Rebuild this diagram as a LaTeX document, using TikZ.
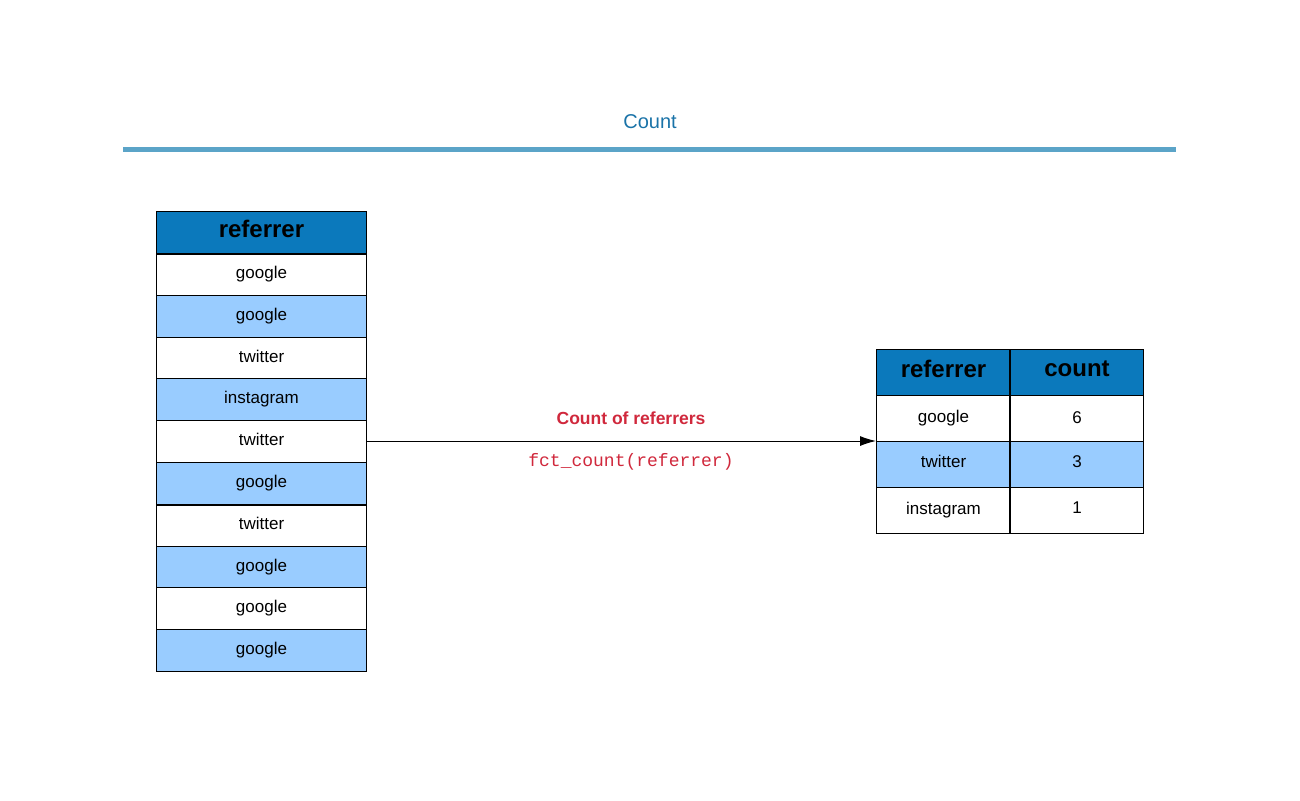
\documentclass[tikz,border=0pt]{standalone}
\usepackage{fontspec}
\setmainfont{Liberation Sans}
\newfontfamily\monofont{Liberation Mono}
\usetikzlibrary{arrows.meta}
\definecolor{hdrblue}{HTML}{0B79BC}
\definecolor{rowblue}{HTML}{99CCFF}
\definecolor{titleblue}{HTML}{1A73A8}
\definecolor{rulecol}{HTML}{5BA4C8}
\definecolor{labred}{HTML}{D0283C}
\tikzset{
  cell/.style={draw=black, line width=1pt, minimum height=#1, inner sep=0pt, anchor=north west, font=\fontsize{17}{20}\selectfont, text=black},
  hdr/.style={fill=hdrblue, font=\fontsize{24}{28}\selectfont\bfseries},
  lb/.style={fill=rowblue},
  wt/.style={fill=white},
}
\begin{document}
\begin{tikzpicture}[x=1pt,y=-1pt]
\useasboundingbox (0,0) rectangle (1300,800);
\node[font=\fontsize{20}{24}\selectfont, text=titleblue] (title) at (650,122) {Count};
\draw[rulecol, line width=5pt] (123,149.5) coordinate (r1) -- (1176,149.5) coordinate (r2);
% left table
\node[cell=42pt, hdr, minimum width=210pt] (lh) at (156,211) {\raisebox{7pt}{referrer}};
\foreach \t/\s [count=\i] in {google/wt, google/lb, twitter/wt, instagram/lb, twitter/wt, google/lb, twitter/wt, google/lb, google/wt, google/lb}{
  \node[cell=41.8pt, \s, minimum width=210pt] (l\i) at (156,{253+(\i-1)*41.8}) {\raisebox{4pt}{\t}};
}
\draw[line width=2pt] (lh.south west) -- (lh.south east);
\draw[line width=2pt] (l6.south west) -- (l6.south east);
% right table
\node[cell=46pt, hdr, minimum width=134pt] (rh1) at (876,349) {\raisebox{8pt}{referrer}};
\node[cell=46pt, hdr, minimum width=133pt] (rh2) at (1010,349) {\raisebox{8pt}{count}};
\node[cell=46pt, wt, minimum width=134pt] (ra1) at (876,395) {\raisebox{5pt}{google}};
\node[cell=46pt, wt, minimum width=133pt] (rb1) at (1010,395) {\raisebox{2pt}{6}};
\node[cell=46pt, lb, minimum width=134pt] (ra2) at (876,441) {\raisebox{7pt}{twitter}};
\node[cell=46pt, lb, minimum width=133pt] (rb2) at (1010,441) {\raisebox{5pt}{3}};
\node[cell=46pt, wt, minimum width=134pt] (ra3) at (876,487) {\raisebox{4pt}{instagram}};
\node[cell=46pt, wt, minimum width=133pt] (rb3) at (1010,487) {\raisebox{5pt}{1}};
\draw[line width=2pt] (rh2.north west) -- (rb3.south west);
% arrow
\coordinate (src) at (l5.east |- 0,441);
\coordinate (dst) at (ra2.north west);
\draw[line width=1pt, -{Latex[length=16pt,width=10pt]}] (src) -- (dst);
\node[text=labred, font=\fontsize{17.5}{20}\selectfont\bfseries] (lab1) at (631,418) {Count of referrers};
\node[text=labred, font=\fontsize{18}{22}\selectfont\monofont] (lab2) at (631,462) {fct\_count(referrer)};
\end{tikzpicture}
\end{document}
